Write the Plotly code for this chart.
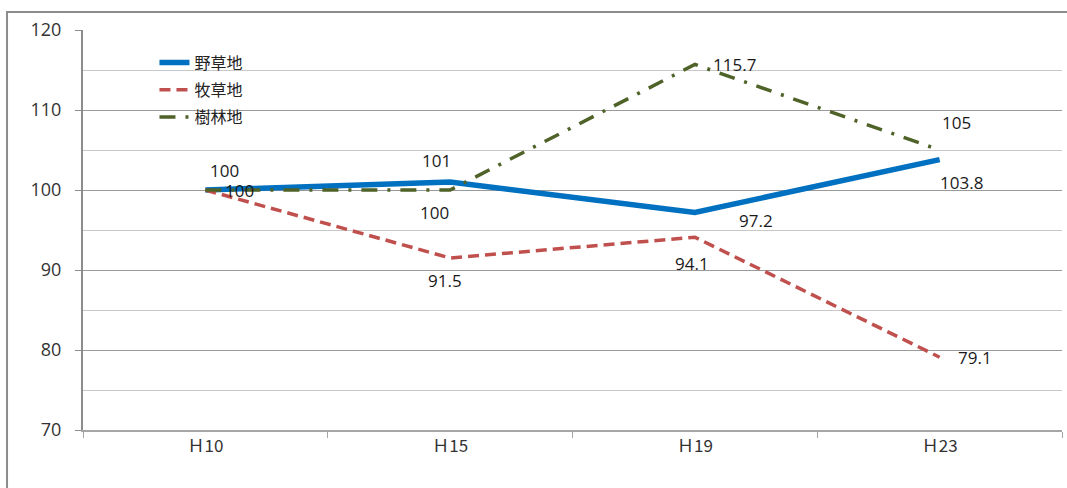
import plotly.graph_objects as go

# Survey years (Heisei era)
years = ["Ｈ10", "Ｈ15", "Ｈ19", "Ｈ23"]

# Index values (H10 = 100)
yasouchi = [100, 101, 97.2, 103.8]     # 野草地
bokusouchi = [100, 91.5, 94.1, 79.1]   # 牧草地
jurinchi = [100, 100, 115.7, 105]      # 樹林地

series_names = ["野草地", "牧草地", "樹林地"]

FONT = "Open Sans, Noto Sans CJK JP, sans-serif"

fig = go.Figure()

styles = [
    dict(color="#0070C0", width=5.5, dash="solid"),
    dict(color="#C0504D", width=3.5, dash="11px,6px"),
    dict(color="#4F6228", width=3.5, dash="16px,10px,3px,10px"),
]

for name, vals, st in zip(series_names, [yasouchi, bokusouchi, jurinchi], styles):
    fig.add_trace(go.Scatter(
        x=years, y=vals, name=name, mode="lines",
        line=dict(color=st["color"], width=st["width"], dash=st["dash"]),
        legendgroup=name,
        hoverinfo="skip",
    ))

# Value labels: (series values, index, x offset px, y offset px)
label_specs = [
    (yasouchi, 0, 19, 20),
    (yasouchi, 1, -14, 22),
    (yasouchi, 2, 61, -8),
    (yasouchi, 3, 22, -23),
    (bokusouchi, 0, 34, 0),
    (bokusouchi, 1, -5, -22),
    (bokusouchi, 2, -3, -26),
    (bokusouchi, 3, 35, 0),
    (jurinchi, 1, -16, -22),
    (jurinchi, 2, 40, 0),
    (jurinchi, 3, 17, 28),
]

for vals, i, dx, dy in label_specs:
    v = vals[i]
    fig.add_annotation(
        x=years[i], y=v, text=f"{v:g}", showarrow=False,
        xshift=dx, yshift=dy,
        font=dict(family=FONT, size=17, color="#1a1a1a"),
    )

# Outer chart frame (left and top edges)
fig.add_shape(type="path", xref="paper", yref="paper",
              path="M -0.0776,-0.2 L -0.0776,1.045 L 1.02,1.045",
              line=dict(color="#8c8c8c", width=2))

fig.update_layout(
    width=1067, height=488,
    margin=dict(l=83, r=5, t=30, b=58),
    paper_bgcolor="white", plot_bgcolor="white",
    font=dict(family=FONT, size=17, color="#333333"),
    showlegend=True,
    legend=dict(
        x=0.073, y=0.961, xanchor="left", yanchor="top",
        bgcolor="rgba(0,0,0,0)",
        font=dict(family="Noto Sans CJK JP, sans-serif", size=16, color="#222222"),
        tracegroupgap=3.5,
        itemwidth=30,
    ),
    xaxis=dict(
        type="category", showgrid=False,
        showline=True, linecolor="#a6a6a6", linewidth=1.5,
        ticks="outside", ticklen=6, tickcolor="#a6a6a6", tickson="boundaries",
        tickfont=dict(family="Noto Sans CJK JP, sans-serif", size=17, color="#333333"),
        range=[-0.5, 3.5], zeroline=False,
    ),
    yaxis=dict(
        range=[70, 120], tickvals=[70, 80, 90, 100, 110, 120],
        showgrid=True, gridcolor="#9a9a9a", gridwidth=1,
        minor=dict(dtick=5, showgrid=True, gridcolor="#c8c8c8", gridwidth=1),
        showline=True, linecolor="#8c8c8c", linewidth=2,
        ticks="outside", ticklen=6, tickcolor="#8c8c8c",
        ticklabelstandoff=10,
        tickfont=dict(family=FONT, size=18, color="#333333"),
        zeroline=False,
    ),
)

fig.write_html("out.html")
